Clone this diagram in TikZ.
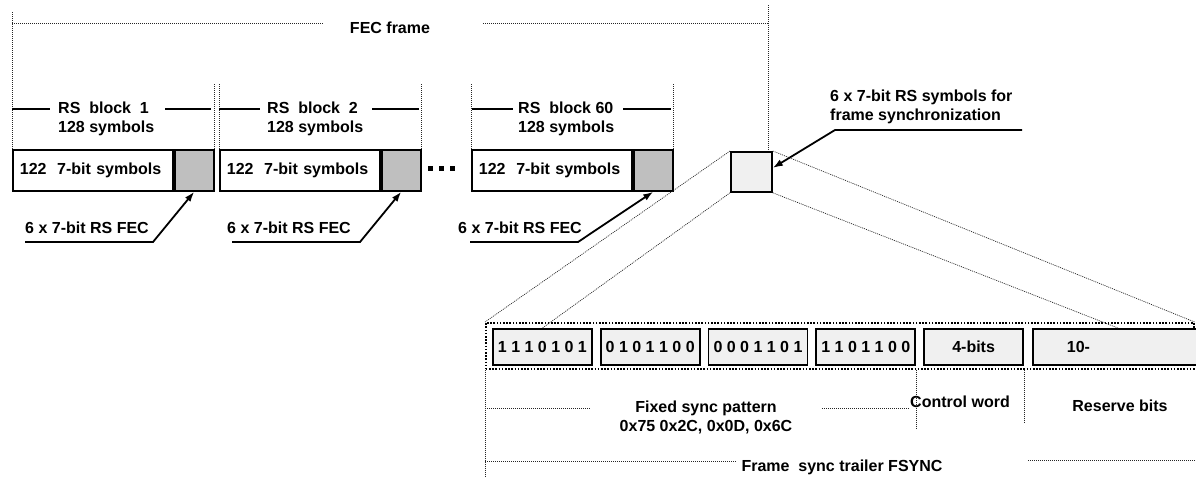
\documentclass[tikz,border=0pt]{standalone}
\usepackage{fontspec}
\setmainfont{Liberation Sans}
\usetikzlibrary{positioning,arrows.meta}
\tikzset{
  lbl/.style={font=\bfseries\fontsize{16}{19}\selectfont, inner sep=0pt},
  dimline/.style={line width=0.7pt, dash pattern=on 1pt off 1pt, black!85},
  bar/.style={line width=1.8pt},
  arr/.style={line width=1.8pt, -{Latex[length=10pt,width=7pt]}},
  databox/.style={draw, line width=1.8pt, anchor=north west, minimum height=41pt,
    text width=146pt, inner xsep=7pt, inner ysep=0pt, align=left,
    font=\bfseries\fontsize{16}{19}\selectfont},
  fecbox/.style={draw, line width=1.8pt, fill=black!25, minimum width=39pt,
    minimum height=41pt, inner sep=0pt},
  syncbox/.style={draw, line width=1.8pt, fill=black!6, anchor=north west,
    minimum width=41pt, minimum height=40pt, inner sep=0pt},
  bitbox/.style={draw, line width=1.8pt, fill=black!6, minimum height=36pt,
    minimum width=99pt, inner sep=0pt, font=\bfseries\fontsize{16}{19}\selectfont},
  framebox/.style={draw, line width=1.6pt, dash pattern=on 1.6pt off 1.6pt,
    anchor=north west, minimum width=708pt, minimum height=46pt, inner sep=0pt}
}
\begin{document}
\begin{tikzpicture}[x=1pt,y=-1pt]
\useasboundingbox (0,0) rectangle (1196,484);
%
\node[lbl] (fecf) at (390,28) {FEC frame};
\draw[dimline] (12,23) -- (323,23);
\draw[dimline] (483,23) -- (768,23);
\draw[dimline] (768,150) -- (768,5);
%
\node[databox] (d1) at (12,149) {122~~7-bit symbols};
\node[fecbox, right=0pt of d1] (f1) {};
\draw[dimline] (d1.north west) -- (12,12);
\draw[dimline] (f1.north east) -- ++(0,-66);
\node[lbl, anchor=west, align=left] (r1) at (58,118.5) {RS~~block~~1\\128 symbols};
\draw[bar] (12,109) -- (50,109);
\draw[bar] (165,109) -- (211,109);
\node[lbl, anchor=west] (fl1) at (25,228) {6 x 7-bit RS FEC};
\coordinate (a1) at (25,242);
\coordinate (k1) at (153,242);
\draw[arr] (a1) -- (k1) -- (f1.south);
%
\node[databox] (d2) at (219,149) {122~~7-bit symbols};
\node[fecbox, right=0pt of d2] (f2) {};
\draw[dimline] (d2.north west) -- ++(0,-66);
\draw[dimline] (f2.north east) -- ++(0,-66);
\node[lbl, anchor=west, align=left] (r2) at (267,118.5) {RS~~block~~2\\128 symbols};
\draw[bar] (219,109) -- (260,109);
\draw[bar] (372,109) -- (419,109);
\node[lbl, anchor=west] (fl2) at (227,228) {6 x 7-bit RS FEC};
\coordinate (a2) at (232,242);
\coordinate (k2) at (360,242);
\draw[arr] (a2) -- (k2) -- (f2.south);
%
\node (dots) at (441,168) {\rule{5pt}{5pt}\hspace{6pt}\rule{5pt}{5pt}\hspace{6pt}\rule{5pt}{5pt}};
%
\node[databox] (d3) at (471,149) {122~~7-bit symbols};
\node[fecbox, right=0pt of d3] (f3) {};
\draw[dimline] (d3.north west) -- ++(0,-66);
\draw[dimline] (f3.north east) -- ++(0,-66);
\node[lbl, anchor=west, align=left] (r3) at (518,118.5) {RS~~block 60\\128 symbols};
\draw[bar] (472,109) -- (513,109);
\draw[bar] (623,109) -- (671,109);
\node[lbl, anchor=west] (fl3) at (458,228) {6 x 7-bit RS FEC};
\coordinate (a3) at (470,242);
\coordinate (k3) at (578,242);
\draw[arr] (a3) -- (k3) -- (f3.south);
%
\node[syncbox] (sync) at (730,151) {};
\node[lbl, anchor=west, align=left] (syl) at (830,106.5) {6 x 7-bit RS symbols for\\frame synchronization};
\coordinate (s1) at (1022,130);
\coordinate (s2) at (835,130);
\draw[arr] (s1) -- (s2) -- ([yshift=4pt]sync.east);
%
\node[framebox] (frame) at (485,322) {};
\node[bitbox, anchor=north west] (b1) at (492,328) {1 1 1 0 1 0 1};
\node[bitbox, right=7pt of b1] (b2) {0 1 0 1 1 0 0};
\node[bitbox, right=7pt of b2] (b3) {0 0 0 1 1 0 1};
\node[bitbox, right=7pt of b3] (b4) {1 1 0 1 1 0 0};
\node[bitbox, right=7pt of b4] (b5) {4-bits};
\node[bitbox, right=8pt of b5, text width=158pt, inner xsep=6pt, align=left] (b6) {\hspace*{28pt}10-};
%
\draw[dimline] (sync.north west) -- (frame.north west);
\draw[dimline] (sync.south west) -- (b1.north);
\draw[dimline] (sync.north east) -- (frame.north east);
\draw[dimline] (sync.south east) -- (b6.north);
%
\draw[dimline] (frame.south west) -- ++(0,107);
\draw[dimline] (b4.south east |- frame.south) -- ++(0,60);
\draw[dimline] (b5.south east |- frame.south) -- ++(0,54);
%
\node[lbl, align=center] (fsp) at (706,417.5) {Fixed sync pattern\\0x75 0x2C, 0x0D, 0x6C};
\draw[dimline] (485,408) -- (590,408);
\draw[dimline] (822,408) -- (909,408);
\node[lbl] (cw) at (960,402) {Control word};
\node[lbl] (rb) at (1120,406) {Reserve bits};
%
\node[lbl] (fst) at (842,467) {Frame~~sync trailer FSYNC};
\draw[dimline] (485,461) -- (737,461);
\draw[dimline] (1028,460) -- (1196,460);
\end{tikzpicture}
\end{document}
